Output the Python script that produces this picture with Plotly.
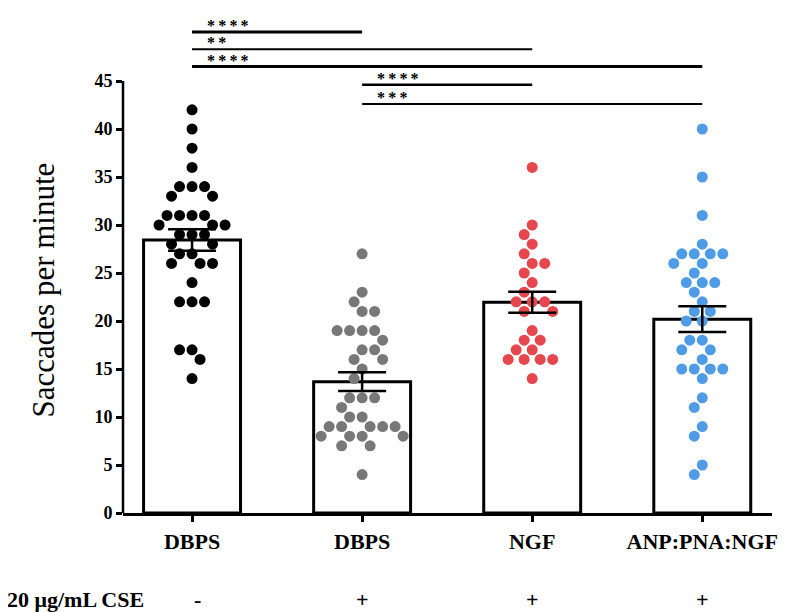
import math
import numpy as np
import plotly.graph_objects as go

# ---------------- data ----------------
categories = ["DBPS", "DBPS", "NGF", "ANP:PNA:NGF"]
cse_labels = ["-", "+", "+", "+"]
cse_title = "20 μg/mL CSE"
y_title = "Saccades per minute"

dbps_ctrl = [42, 40, 38, 36, 34, 34, 34, 33, 33, 31, 31, 31, 31, 30, 30, 30, 29, 29, 29,
             28, 28, 27, 27, 26, 26, 26, 24, 22, 22, 22, 17, 17, 16, 14]
dbps_cse = [27, 23, 22, 21, 21, 19, 19, 19, 19, 18, 17, 17, 16, 16, 15, 14, 12, 12, 12,
            11, 10, 10, 9, 9, 9, 9, 9, 8, 8, 8, 8, 7, 7, 4]
ngf_cse = [36, 30, 29, 28, 27, 26, 26, 25, 24, 23, 22, 22, 22, 21, 21, 19, 18, 18, 17,
           17, 16, 16, 16, 16, 14]
anp_cse = [40, 35, 31, 28, 27, 27, 27, 27, 26, 26, 25, 24, 24, 24, 23, 22, 21, 21, 20,
           20, 18, 18, 17, 17, 16, 15, 15, 15, 15, 14, 12, 11, 9, 8, 5, 4]
groups = [dbps_ctrl, dbps_cse, ngf_cse, anp_cse]

# significance comparisons: (group a, group b, label)
comparisons = [(0, 1, "****"), (0, 2, "**"), (0, 3, "****"), (1, 2, "****"), (1, 3, "***")]

# ---------------- styles / layout ----------------
dot_colors = ["#000000", "#787878", "#e5474c", "#4f9be6"]
# page body has an 8px margin, so the figure is sized to end at the window edge
W, H = 779, 604
ML, MR, MT, MB = 115, 15, 1, 99
XR = [-0.406, 3.41]
YR = [0, 52.5]
sig_levels = [50.1, 48.3, 46.5, 44.6, 42.6]
sig_widths = [3, 2, 3, 2.5, 2]
SERIF = "Liberation Serif"

plot_w = W - ML - MR
plot_h = H - MT - MB
ppx = plot_w / (XR[1] - XR[0])   # px per x unit
ppy = plot_h / (YR[1] - YR[0])   # px per y unit


def swarm(vals, diam):
    """simple beeswarm: returns x offsets (data units)"""
    placed = []
    offs = [0.0] * len(vals)
    order = sorted(range(len(vals)), key=lambda i: -vals[i])
    for i in order:
        y = vals[i] * ppy
        ivs = []
        for (px_, py_) in placed:
            dy = abs(y - py_)
            if dy < diam:
                h = math.sqrt(diam * diam - dy * dy)
                ivs.append((px_ - h, px_ + h))
        cands = [0.0] + [a for a, b in ivs] + [b for a, b in ivs]
        cands.sort(key=lambda c: (abs(c), c))
        chosen = 0.0
        for c in cands:
            if all(not (a + 1e-6 < c < b - 1e-6) for a, b in ivs):
                chosen = c
                break
        placed.append((chosen, y))
        offs[i] = chosen / ppx
    return offs


means = [float(np.mean(g)) for g in groups]
sems = [float(np.std(g, ddof=1) / np.sqrt(len(g))) for g in groups]
xs = list(range(len(groups)))

fig = go.Figure()
fig.add_trace(go.Bar(
    x=xs, y=means, width=0.57,
    marker=dict(color="white", line=dict(color="black", width=3)),
    showlegend=False, hoverinfo="skip"))

for k, g in enumerate(groups):
    offs = swarm(g, 12.5)
    fig.add_trace(go.Scatter(
        x=[k + o for o in offs], y=g, mode="markers",
        marker=dict(size=11, color=dot_colors[k], line=dict(width=0)),
        showlegend=False, hoverinfo="skip", cliponaxis=False))

fig.add_trace(go.Scatter(
    x=xs, y=means, mode="markers",
    marker=dict(size=1, color="rgba(0,0,0,0)"),
    error_y=dict(type="data", array=sems, visible=True, color="black",
                 thickness=2.5, width=24),
    showlegend=False, hoverinfo="skip"))

# y axis line (only 0..45)
fig.add_shape(type="line", xref="paper", yref="y", x0=0, x1=0, y0=0, y1=45,
              line=dict(color="black", width=2.5))

# significance bars
for (a, b, lab), lvl, lw in zip(comparisons, sig_levels, sig_widths):
    fig.add_shape(type="line", xref="x", yref="y", x0=a, x1=b, y0=lvl, y1=lvl,
                  line=dict(color="black", width=lw))
    fig.add_annotation(x=a, y=lvl, xref="x", yref="y", text="\u2009".join(lab),
                       showarrow=False, xanchor="left", yanchor="middle",
                       xshift=13, yshift=7, height=12, valign="middle",
                       font=dict(family=SERIF, size=16, color="black", weight=700))

# y axis title (centred on the 0..45 part of the axis)
fig.add_annotation(x=-0.123, y=23.2, xref="paper", yref="y", text=y_title,
                   showarrow=False, textangle=-90, xanchor="center", yanchor="middle",
                   font=dict(family=SERIF, size=31, color="black"))

# CSE row
fig.add_annotation(x=-0.182, y=-0.171, xref="paper", yref="paper", text=cse_title,
                   showarrow=False, xanchor="left", yanchor="middle",
                   font=dict(family=SERIF, size=22, color="black", weight=700))
for k, s in enumerate(cse_labels):
    fig.add_annotation(x=k, y=-0.171, xref="x", yref="paper", text=s, showarrow=False,
                       xanchor="center", yanchor="middle",
                       xshift=5 if s == "-" else 0,
                       font=dict(family=SERIF, size=22, color="black", weight=700))

fig.update_layout(
    width=W, height=H,
    margin=dict(l=ML, r=MR, t=MT, b=MB, autoexpand=False),
    paper_bgcolor="white", plot_bgcolor="white",
    xaxis=dict(range=XR, tickvals=xs, ticktext=categories, showgrid=False, zeroline=False,
               showline=True, linecolor="black", linewidth=2.5,
               ticks="outside", ticklen=6, tickwidth=2.5, tickcolor="black",
               ticklabelstandoff=1,
               tickfont=dict(family=SERIF, size=22, color="black", weight=700)),
    yaxis=dict(range=YR, tickvals=list(range(0, 50, 5)), showgrid=False, zeroline=False,
               showline=False, ticks="outside", ticklen=6, tickwidth=2.5, tickcolor="black",
               tickfont=dict(family=SERIF, size=18, color="black", weight=700)),
)

fig.write_html("out.html")
